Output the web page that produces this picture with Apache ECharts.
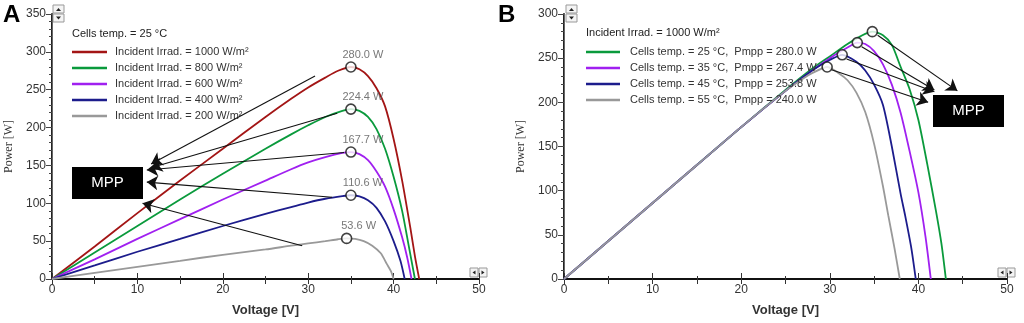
<!DOCTYPE html>
<html><head><meta charset="utf-8">
<script src="https://cdn.jsdelivr.net/npm/echarts@6/dist/echarts.min.js"></script>
<style>html,body{margin:0;padding:0;background:#fff}#c{width:1024px;height:323px}</style>
</head><body><div id="c"></div>
<script>
// ---------- Panel A data: P-V curves at 25 °C for different irradiances ----------
const leftNames = ['Incident Irrad. = 1000 W/m²','Incident Irrad. = 800 W/m²','Incident Irrad. = 600 W/m²','Incident Irrad. = 400 W/m²','Incident Irrad. = 200 W/m²'];
const irr1000 = [[0,0],[5,43],[10,87],[15,130],[20,172],[25,214],[28,238],[30,253],[32,266],[33.5,275],[35,280],[36,277],[37,268],[38,252],[39,228],[40,185],[41,130],[42,65],[42.5,30],[43,0]];
const irr800  = [[0,0],[5,35],[10,70],[15,105],[20,139],[25,172],[28,191],[30,203],[32,214],[34,222],[35,224.4],[36,222],[37,214],[38,198],[39,172],[40,135],[41,90],[41.8,42],[42.5,0]];
const irr600  = [[0,0],[5,26],[10,53],[15,79],[20,105],[25,130],[28,145],[30,154],[32,161],[34,166.5],[35,167.7],[36,165],[37,157],[38,142],[39,122],[40,92],[41,55],[41.6,28],[42.1,0]];
const irr400  = [[0,0],[5,18],[10,36],[15,53],[20,70],[25,86],[28,95],[30,101],[32,106],[34,109.5],[35,110.6],[36,109],[37,104],[38,94],[39,76],[40,50],[40.8,24],[41.3,0]];
const irr200  = [[0,0],[5,8],[10,16],[15,24],[20,32],[25,39],[28,44],[30,47],[32,50],[33.5,52.5],[34.5,53.6],[35.5,53],[36.5,50],[37.5,44],[38.5,34],[39.2,20],[39.7,10],[40,0]];
const leftMpp = [[35,280],[35,224.4],[35,167.7],[35,110.6],[34.5,53.6]];
const leftMppLabels = ['280.0 W','224.4 W','167.7 W','110.6 W','53.6 W'];
const leftArrowFrom = [[30.8,268],[33.4,219],[34.2,167],[32.8,108],[29.3,44]];
const leftArrowTo   = [[11.6,152],[11.6,147],[11.1,144],[11.1,128],[10.6,100]];

// ---------- Panel B data: P-V curves at 1000 W/m² for different cell temperatures ----------
const rightNames = ['Cells temp. = 25 °C,  Pmpp = 280.0 W','Cells temp. = 35 °C,  Pmpp = 267.4 W','Cells temp. = 45 °C,  Pmpp = 253.8 W','Cells temp. = 55 °C,  Pmpp = 240.0 W'];
const t25 = [[0,0],[5,43],[10,86],[15,129],[20,172],[25,214],[28,238],[30,252],[32,266],[33.5,275],[34.8,280],[36,276],[37,265],[38,240],[39,215],[40,180],[41,130],[42,76],[42.6,40],[43.1,0]];
const t35 = [[0,0],[5,43],[10,86],[15,129],[20,172],[25,213],[28,236],[30,250],[32,262],[33.1,267.6],[34,266],[35,258],[36,243],[37,220],[38,188],[39,145],[40,98],[40.8,48],[41.4,0]];
const t45 = [[0,0],[5,43],[10,86],[15,129],[20,172],[25,213],[28,236],[30,248],[31.4,253.8],[33,246],[34,236],[35,220],[36,197],[37,150],[38,96],[38.5,72],[39.2,35],[39.7,0]];
const t55 = [[0,0],[5,43],[10,86],[15,129],[20,172],[25,213],[27,227],[28,233],[29.7,240],[31,233],[32,225],[33,211],[34,189],[35,153],[36,105],[36.6,72],[37.3,35],[37.9,0]];
const rightMpp = [[34.8,280],[33.1,267.6],[31.4,253.8],[29.7,240]];
const rightArrowFrom = [[35.4,276],[33.6,263],[31.9,249],[30.2,237]];
const rightArrowTo   = [[44.4,213],[41.8,214],[41.8,212],[41.1,200]];

const xTicks = [0,10,20,30,40,50];
const leftColors = ['#a31515','#0a9a3c','#a020f0','#1c1c8c','#999999'];
const rightColors = ['#0a9a3c','#a020f0','#1c1c8c','#999999'];

const FONT = 'Liberation Sans, Arial, sans-serif';
const chart = echarts.init(document.getElementById('c'), null, {renderer:'canvas'});

function xAxisPair(gi){
  return [
    {type:'value', gridIndex:gi, position:'bottom', min:xTicks[0], max:xTicks[xTicks.length-1], interval:10,
     name:'Voltage [V]', nameLocation:'middle', nameGap:25,
     nameTextStyle:{fontFamily:FONT, fontSize:13, fontWeight:'bold', color:'#333'},
     axisLine:{lineStyle:{color:'#111', width:2}},
     axisTick:{inside:true, length:6, lineStyle:{color:'#333'}},
     minorTick:{show:true, splitNumber:2, length:3, lineStyle:{color:'#333'}},
     splitLine:{show:false},
     axisLabel:{fontFamily:FONT, fontSize:12, color:'#333', margin:5}},
    {type:'value', gridIndex:gi, position:'top', min:xTicks[0], max:xTicks[xTicks.length-1], interval:10,
     axisLine:{lineStyle:{color:'#111', width:2}},
     axisTick:{inside:true, length:5, lineStyle:{color:'#333'}},
     minorTick:{show:true, splitNumber:2, length:5, lineStyle:{color:'#333'}},
     splitLine:{show:false}, axisLabel:{show:false}}
  ];
}
function yAxisPair(gi, max){
  return [
    {type:'value', gridIndex:gi, position:'left', min:0, max:max, interval:50,
     name:'Power [W]', nameLocation:'middle', nameGap:37,
     nameTextStyle:{fontFamily:'Liberation Serif, serif', fontSize:12, color:'#333'},
     axisLine:{show:true, lineStyle:{color:'#222', width:2}},
     axisTick:{show:true, inside:false, length:4, lineStyle:{color:'#333'}},
     minorTick:{show:true, splitNumber:5, length:3, lineStyle:{color:'#333'}},
     splitLine:{show:false},
     axisLabel:{fontFamily:FONT, fontSize:12, color:'#333', margin:6}},
    {type:'value', gridIndex:gi, position:'right', min:0, max:max, interval:50,
     axisLine:{show:true, lineStyle:{color:'#666', width:1}},
     axisTick:{show:true, inside:true, length:6, lineStyle:{color:'#444'}},
     minorTick:{show:true, splitNumber:5, length:3, lineStyle:{color:'#444'}},
     splitLine:{show:false}, axisLabel:{show:false}}
  ];
}

function curve(name, data, color, xi, yi){
  return {type:'line', name:name, data:data, xAxisIndex:xi, yAxisIndex:yi,
    showSymbol:false, smooth:0.25, color:color,
    lineStyle:{color:color, width:1.8}, z:2, silent:true};
}
// annotation arrows drawn with a 'lines' series
function arrowSeries(from, to, xi, yi){
  return {type:'lines', coordinateSystem:'cartesian2d', xAxisIndex:xi, yAxisIndex:yi,
    silent:true, z:4, symbol:['none','arrow'], symbolSize:11,
    lineStyle:{color:'#111', width:1.1, opacity:1, curveness:0},
    itemStyle:{color:'#111'},
    data:from.map((f,i)=>({coords:[f, to[i]]}))};
}

const series = [];
const leftData = [irr1000, irr800, irr600, irr400, irr200];
leftData.forEach((d,i)=>series.push(curve(leftNames[i], d, leftColors[i], 0, 0)));
series.push(arrowSeries(leftArrowFrom, leftArrowTo, 0, 0));
series.push({type:'scatter', name:'mppA', xAxisIndex:0, yAxisIndex:0, z:5,
  data:leftMpp.map((p,i)=>({value:p, label:{formatter:leftMppLabels[i]}})),
  symbol:'circle', symbolSize:10,
  itemStyle:{color:'#fff', borderColor:'#111', borderWidth:1.6},
  label:{show:true, position:'top', offset:[12,4], fontFamily:FONT, fontSize:11, color:'#555'}
});
const rightData = [t25, t35, t45, t55];
rightData.forEach((d,i)=>series.push(curve(rightNames[i], d, rightColors[i], 2, 2)));
series.push(arrowSeries(rightArrowFrom, rightArrowTo, 2, 2));
series.push({type:'scatter', name:'mppB', xAxisIndex:2, yAxisIndex:2, z:5,
  data:rightMpp, symbol:'circle', symbolSize:10,
  itemStyle:{color:'#fff', borderColor:'#111', borderWidth:1.6}
});

function mppBox(x,y){
  return [
    {type:'rect', z:100, shape:{x:x,y:y,width:71,height:32}, style:{fill:'#000'}},
    {type:'text', z:101, x:x+35.5, y:y+16,
     style:{text:'MPP', fill:'#fff', font:'15px '+FONT, align:'center', verticalAlign:'middle'}}
  ];
}
function scrollV(x,y){
  return {type:'group', x:x, y:y, z:100, children:[
    {type:'rect', shape:{x:0,y:0,width:11,height:8}, style:{fill:'#f4f4f4', stroke:'#999', lineWidth:1}},
    {type:'polygon', shape:{points:[[3,6],[8,6],[5.5,3]]}, style:{fill:'#222'}},
    {type:'rect', shape:{x:0,y:9,width:11,height:8}, style:{fill:'#f4f4f4', stroke:'#999', lineWidth:1}},
    {type:'polygon', shape:{points:[[3,11.5],[8,11.5],[5.5,14.5]]}, style:{fill:'#222'}}
  ]};
}
function scrollH(x,y){
  return {type:'group', x:x, y:y, z:100, children:[
    {type:'rect', shape:{x:0,y:0,width:8,height:9}, style:{fill:'#f4f4f4', stroke:'#999', lineWidth:1}},
    {type:'polygon', shape:{points:[[5.5,2.5],[5.5,6.5],[2.5,4.5]]}, style:{fill:'#222'}},
    {type:'rect', shape:{x:9,y:0,width:8,height:9}, style:{fill:'#f4f4f4', stroke:'#999', lineWidth:1}},
    {type:'polygon', shape:{points:[[11.5,2.5],[11.5,6.5],[14.5,4.5]]}, style:{fill:'#222'}}
  ]};
}

const option = {
  animation:false,
  backgroundColor:'#fff',
  grid:[
    {left:52, right:545, top:14, bottom:44},
    {left:564, right:17, top:14, bottom:44}
  ],
  xAxis:[...xAxisPair(0), ...xAxisPair(1)],
  yAxis:[...yAxisPair(0, 350), ...yAxisPair(1, 300)],
  legend:[
    {data:leftNames, orient:'vertical', left:72, top:44, padding:0, itemGap:0,
     itemWidth:35, itemHeight:2.5, icon:'rect', selectedMode:false,
     textStyle:{fontFamily:FONT, fontSize:11, color:'#333', lineHeight:16, padding:[0,0,0,3]}},
    {data:rightNames, orient:'vertical', left:586, top:44, padding:0, itemGap:0,
     itemWidth:34, itemHeight:2.5, icon:'rect', selectedMode:false,
     textStyle:{fontFamily:FONT, fontSize:11, color:'#333', lineHeight:16, padding:[0,0,0,5]}}
  ],
  graphic:[
    {type:'text', x:3, y:3, style:{text:'A', font:'bold 24px '+FONT, fill:'#000'}},
    {type:'text', x:498, y:3, style:{text:'B', font:'bold 24px '+FONT, fill:'#000'}},
    {type:'text', x:72, y:28, style:{text:'Cells temp. = 25 °C', font:'11px '+FONT, fill:'#222'}},
    {type:'text', x:586, y:27, style:{text:'Incident Irrad. = 1000 W/m²', font:'11px '+FONT, fill:'#222'}},
    ...mppBox(72,167),
    ...mppBox(933,95),
    scrollV(53,5), scrollV(566,5),
    scrollH(470,268), scrollH(998,268)
  ],
  series:series
};
chart.setOption(option);
</script></body></html>
